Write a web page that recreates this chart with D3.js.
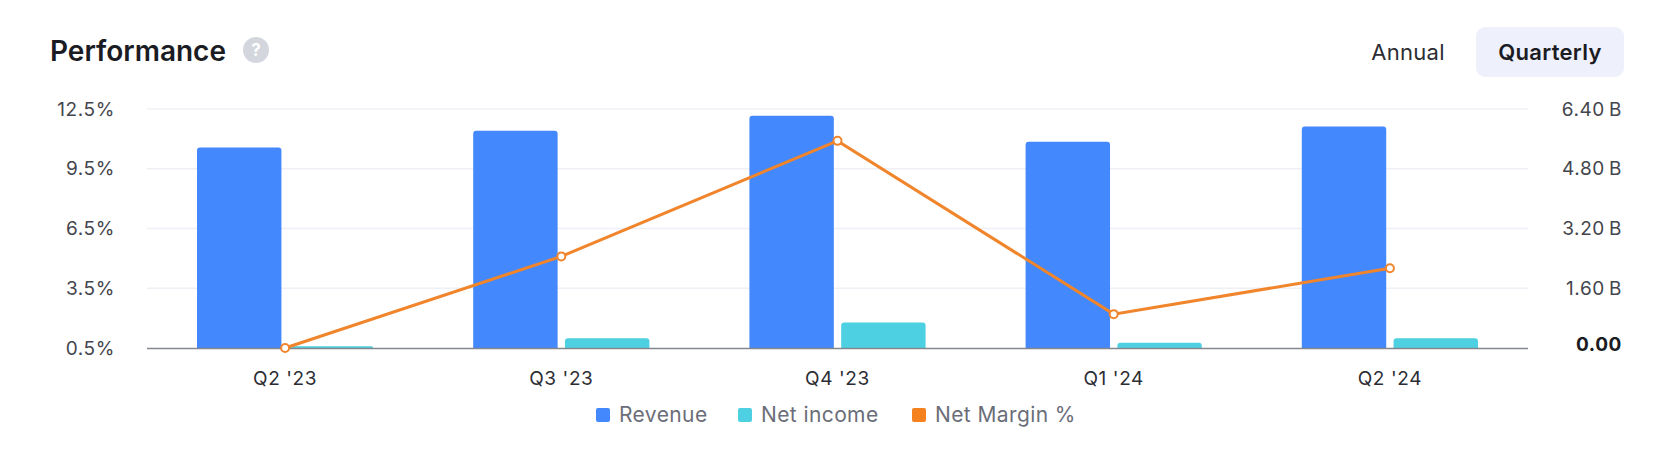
<!DOCTYPE html>
<html>
<head>
<meta charset="utf-8">
<script src="https://cdn.jsdelivr.net/npm/d3@7"></script>
<style>
  body { margin: 0; background: #fff; }
  svg { display: block; font-family: Inter, "Noto Sans", sans-serif; }
</style>
</head>
<body>
<svg id="chart"></svg>
<script>
// values (billions / percent)
var quarters = ["Q2 '23", "Q3 '23", "Q4 '23", "Q1 '24", "Q2 '24"];
var revenue = [5.37, 5.82, 6.22, 5.52, 5.93];
var netIncome = [0.05, 0.26, 0.68, 0.14, 0.26];
var netMargin = [0.5, 5.1, 10.9, 2.2, 4.5];
var marginTicks = [0.5, 3.5, 6.5, 9.5, 12.5];
var valueTicks = [0, 1.6, 3.2, 4.8, 6.4];
var legendItems = ["Revenue", "Net income", "Net Margin %"];
var colors = ["#4388fd", "#4dd0e1", "#f5821f"];

var width = 1680, height = 474;
var plotLeft = 147, plotRight = 1528, plotTop = 109, plotBottom = 348;

var svg = d3.select('#chart')
	.attr('width', width)
	.attr('height', height);

// header
svg.append('text')
	.attr('x', 50).attr('y', 61)
	.attr('font-size', 28).attr('font-weight', 600)
	.attr('fill', '#1b1c23')
	.text('Performance');

var help = svg.append('g').attr('transform', 'translate(256,50)');
help.append('circle').attr('r', 13).attr('fill', '#d4d6de');
help.append('text')
	.attr('text-anchor', 'middle').attr('dy', 6)
	.attr('font-size', 17).attr('font-weight', 700)
	.attr('fill', '#fff')
	.text('?');

svg.append('text')
	.attr('x', 1408).attr('y', 60)
	.attr('text-anchor', 'middle')
	.attr('font-size', 22)
	.attr('letter-spacing', 0.3)
	.attr('fill', '#2c2d33')
	.text('Annual');

svg.append('rect')
	.attr('x', 1476).attr('y', 27)
	.attr('width', 148).attr('height', 50)
	.attr('rx', 9)
	.attr('fill', '#eef0fb');
svg.append('text')
	.attr('x', 1550).attr('y', 60)
	.attr('text-anchor', 'middle')
	.attr('font-size', 22).attr('font-weight', 600)
	.attr('letter-spacing', 0.3)
	.attr('fill', '#1b1c23')
	.text('Quarterly');

// scales
var x0 = d3.scaleBand().domain(quarters).range([plotLeft, plotRight]);
var x1 = d3.scaleBand().domain(['rev', 'ni'])
	.range([50, x0.bandwidth() - 50])
	.paddingInner(0.08);
var yVal = d3.scaleLinear().domain([0, 6.4]).range([plotBottom, plotTop]);
var yPct = d3.scaleLinear().domain([0.5, 12.5]).range([plotBottom, plotTop]);

// grid
svg.append('g')
	.selectAll('line')
	.data(marginTicks.slice(1))
	.enter().append('line')
	.attr('x1', plotLeft).attr('x2', plotRight)
	.attr('y1', function(d) { return yPct(d); })
	.attr('y2', function(d) { return yPct(d); })
	.attr('stroke', '#eff0f6')
	.attr('stroke-width', 1.5);

// left axis (percent)
var leftAxis = svg.append('g')
	.attr('transform', 'translate(' + (plotLeft - 32) + ',0)')
	.call(d3.axisLeft(yPct).tickValues(marginTicks).tickSize(0).tickPadding(0)
		.tickFormat(function(d) { return d3.format('.1f')(d) + '%'; }));
leftAxis.select('.domain').remove();
leftAxis.selectAll('text')
	.attr('font-size', 19).attr('font-family', 'Inter, sans-serif')
	.attr('letter-spacing', 0.6)
	.attr('fill', '#44464d');

// right axis (billions)
var rightAxis = svg.append('g')
	.attr('transform', 'translate(1622,0)')
	.call(d3.axisLeft(yVal).tickValues(valueTicks).tickSize(0).tickPadding(0)
		.tickFormat(function(d) { return d === 0 ? '0.00' : d3.format('.2f')(d) + '\u2009B'; }));
rightAxis.select('.domain').remove();
rightAxis.selectAll('text')
	.attr('font-size', 19).attr('font-family', 'Inter, sans-serif')
	.attr('letter-spacing', 0.6)
	.attr('font-weight', function(d) { return d === 0 ? 700 : 400; })
	.attr('dy', function(d) { return d === 0 ? '0.15em' : '0.32em'; })
	.attr('fill', function(d) { return d === 0 ? '#1b1c23' : '#44464d'; });

// bars with rounded top
var barPath = function(x, y, w, h) {
	var r = Math.min(3, h, w / 2);
	return 'M' + x + ',' + (y + h) +
		'V' + (y + r) +
		'Q' + x + ',' + y + ' ' + (x + r) + ',' + y +
		'H' + (x + w - r) +
		'Q' + (x + w) + ',' + y + ' ' + (x + w) + ',' + (y + r) +
		'V' + (y + h) + 'Z';
};

var groups = svg.append('g')
	.selectAll('g')
	.data(quarters)
	.enter().append('g')
	.attr('transform', function(d) { return 'translate(' + x0(d) + ',0)'; });

groups.append('path')
	.attr('fill', colors[0])
	.attr('d', function(d, i) {
		var v = yVal(revenue[i]);
		return barPath(x1('rev'), v, x1.bandwidth(), plotBottom - v);
	});

groups.append('path')
	.attr('fill', colors[1])
	.attr('d', function(d, i) {
		var v = yVal(netIncome[i]);
		return barPath(x1('ni'), v, x1.bandwidth(), plotBottom - v);
	});

// baseline
svg.append('line')
	.attr('x1', plotLeft).attr('x2', plotRight)
	.attr('y1', plotBottom + 0.5).attr('y2', plotBottom + 0.5)
	.attr('stroke', '#85878e')
	.attr('stroke-width', 1.5);

// x labels
svg.append('g')
	.selectAll('text')
	.data(quarters)
	.enter().append('text')
	.attr('x', function(d) { return x0(d) + x0.bandwidth() / 2; })
	.attr('y', 385)
	.attr('text-anchor', 'middle')
	.attr('font-size', 19)
	.attr('letter-spacing', 0.6)
	.attr('fill', '#2c2d33')
	.text(function(d) { return d; });

// margin line
var cx = function(d, i) { return x0(quarters[i]) + x0.bandwidth() / 2; };
var line = d3.line()
	.x(function(d, i) { return cx(d, i); })
	.y(function(d) { return yPct(d); });

svg.append('path')
	.datum(netMargin)
	.attr('fill', 'none')
	.attr('stroke', '#f0852c')
	.attr('stroke-width', 3)
	.attr('d', line);

svg.append('g')
	.selectAll('circle')
	.data(netMargin)
	.enter().append('circle')
	.attr('cx', function(d, i) { return cx(d, i); })
	.attr('cy', function(d) { return yPct(d); })
	.attr('r', 4)
	.attr('fill', '#fff')
	.attr('stroke', '#f0852c')
	.attr('stroke-width', 2);

// legend
var legendX = [596, 738, 912];
var legend = svg.append('g')
	.selectAll('g')
	.data(legendItems)
	.enter().append('g')
	.attr('transform', function(d, i) { return 'translate(' + legendX[i] + ',415)'; });
legend.append('rect')
	.attr('x', 0).attr('y', -7)
	.attr('width', 14).attr('height', 14)
	.attr('rx', 2)
	.attr('fill', function(d, i) { return colors[i]; });
legend.append('text')
	.attr('x', 23).attr('dy', '0.35em')
	.attr('font-size', 21)
	.attr('letter-spacing', 0.4)
	.attr('fill', '#6b6e78')
	.text(function(d) { return d; });
</script>
</body>
</html>
